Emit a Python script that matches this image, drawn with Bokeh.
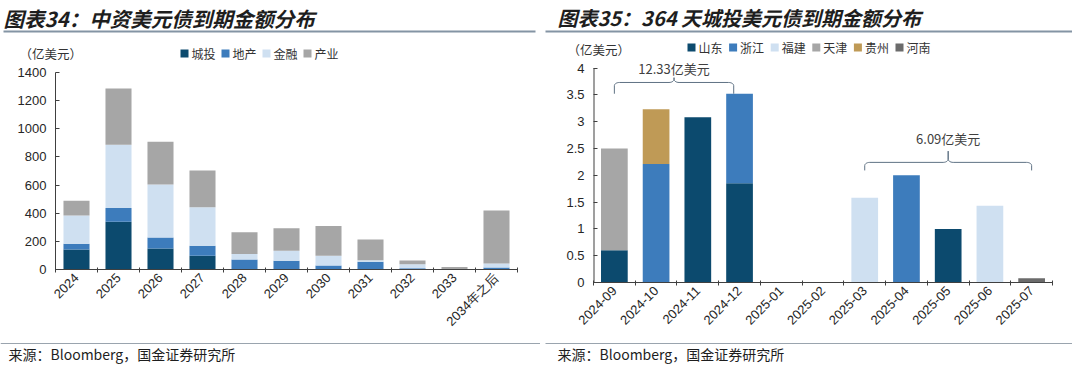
import math
import numpy as np
from bokeh.plotting import figure
from bokeh.layouts import row, column
from bokeh.models import (Range1d, FixedTicker, Label, NumeralTickFormatter, ColumnDataSource)
from bokeh.embed import file_html
from bokeh.resources import INLINE

# ---------------- data: left chart (图表34) ----------------
left_title = "图表34：中资美元债到期金额分布"
years = ["2024", "2025", "2026", "2027", "2028", "2029", "2030", "2031", "2032", "2033", "2034年之后"]
chengtou = [143, 340, 149, 97, 0, 0, 0, 0, 0, 0, 0]
dichan = [40, 97, 79, 72, 71, 62, 28, 55, 8, 0, 15]
jinrong = [200, 450, 376, 273, 40, 71, 69, 11, 30, 0, 28]
chanye = [105, 400, 304, 262, 154, 161, 213, 147, 26, 17, 377]
left_series = ["城投", "地产", "金融", "产业"]
left_yticks = [0, 200, 400, 600, 800, 1000, 1200, 1400]

# ---------------- data: right chart (图表35) ----------------
right_title = "图表35：364 天城投美元债到期金额分布"
months = ["2024-09", "2024-10", "2024-11", "2024-12", "2025-01", "2025-02",
          "2025-03", "2025-04", "2025-05", "2025-06", "2025-07"]
shandong = [0.60, 0, 3.08, 1.85, 0, 0, 0, 0, 1.00, 0, 0]
zhejiang = [0, 2.21, 0, 1.67, 0, 0, 0, 2.00, 0, 0, 0]
fujian = [0, 0, 0, 0, 0, 0, 1.58, 0, 0, 1.43, 0]
tianjin = [1.90, 0, 0, 0, 0, 0, 0, 0, 0, 0, 0]
guizhou = [0, 1.02, 0, 0, 0, 0, 0, 0, 0, 0, 0]
henan = [0, 0, 0, 0, 0, 0, 0, 0, 0, 0, 0.08]
right_series = ["山东", "浙江", "福建", "天津", "贵州", "河南"]
right_yticks = [0, 0.5, 1, 1.5, 2, 2.5, 3, 3.5, 4]
group1 = months[0:4]
group2 = months[6:11]

unit_text = "（亿美元）"
source_text = "来源：Bloomberg，国金证券研究所"

# ---------------- styles ----------------
NAVY = "#0c4a6e"
BLUE = "#3d7cbc"
LIGHT = "#cfe0f1"
GREY = "#a6a6a6"
GOLD = "#bf9a56"
DGREY = "#6b6b6b"
AXIS = "#404040"
TXT = "#262626"
RULE = "#8494a4"
CJK = "Noto Sans CJK SC"
LAT = "Liberation Sans"
LEFT_COLORS = [NAVY, BLUE, LIGHT, GREY]
RIGHT_COLORS = [NAVY, BLUE, LIGHT, GREY, GOLD, DGREY]


def blank_fig(w, h):
    p = figure(width=w, height=h, output_backend="svg", toolbar_location=None,
               x_range=Range1d(0, w), y_range=Range1d(h, 0),
               x_axis_location=None, y_axis_location=None, frame_align=False,
               min_border=0, min_border_left=0, min_border_right=0,
               min_border_top=0, min_border_bottom=0)
    p.grid.visible = False
    p.outline_line_color = None
    p.background_fill_color = "white"
    p.border_fill_color = "white"
    return p


def txt(p, text, x, y, size, color=TXT, style="normal", align="left", font=CJK):
    p.add_layout(Label(x=x, y=y, text=text, text_font=font, text_font_size=size,
                       text_color=color, text_font_style=style, text_align=align,
                       text_baseline="middle"))


def header(w, h, title, tx, tsize, rule_x0, rule_x1, ux, uy, names, colors, lx0, lstep, ly):
    p = blank_fig(w, h)
    txt(p, title, tx, 17, tsize, color="#1e1e1e", style="bold italic")
    p.segment(x0=[rule_x0], y0=[31], x1=[rule_x1], y1=[31], line_color=RULE, line_width=2)
    txt(p, unit_text, ux, uy, "12.5px", color="#333333")
    xs = [lx0 + lstep * i for i in range(len(names))]
    p.rect(x=xs, y=[ly] * len(names), width=8, height=8, width_units="screen",
           height_units="screen", fill_color=colors, line_color=None)
    for x, nm in zip(xs, names):
        txt(p, nm, x + 7, ly, "12px", color="#333333")
    return p


def footer(w, h, rule_x0, rule_x1, tx):
    p = blank_fig(w, h)
    p.segment(x0=[rule_x0], y0=[6], x1=[rule_x1], y1=[6], line_color="#9aa4ae", line_width=1)
    txt(p, source_text, tx, 16.5, "14px", color="#1e1e1e")
    return p


def chart_fig(w, h, n, ymax, mb_l, mb_r, mb_t, mb_b):
    p = figure(width=w, height=h, output_backend="svg", toolbar_location=None,
               x_range=Range1d(-0.5, n - 0.5), y_range=Range1d(0, ymax), frame_align=False,
               min_border_left=mb_l, min_border_right=mb_r,
               min_border_top=mb_t, min_border_bottom=mb_b)
    p.grid.visible = False
    p.outline_line_color = None
    p.background_fill_color = "white"
    p.border_fill_color = "white"
    xa = p.xaxis[0]
    xa.ticker = FixedTicker(ticks=list(range(n)), minor_ticks=[i - 0.5 for i in range(n + 1)])
    xa.major_tick_in = 0
    xa.major_tick_out = 0
    xa.minor_tick_in = 2
    xa.minor_tick_out = 3
    xa.minor_tick_line_color = AXIS
    xa.axis_line_color = AXIS
    xa.major_label_orientation = math.pi / 4
    xa.major_label_text_font = LAT
    xa.major_label_text_font_size = "13px"
    xa.major_label_text_color = TXT
    xa.major_label_standoff = 3
    ya = p.yaxis[0]
    ya.major_tick_in = 4
    ya.major_tick_out = 0
    ya.minor_tick_line_color = None
    ya.axis_line_color = AXIS
    ya.major_tick_line_color = AXIS
    ya.major_label_text_font = LAT
    ya.major_label_text_font_size = "13px"
    ya.major_label_text_color = TXT
    ya.major_label_standoff = 9
    return p


def brace(x0, x1, xc, yb, ym, yt, rx, ry):
    a = np.linspace(0, np.pi / 2, 8)
    lx = [x0] + list(x0 + rx - rx * np.cos(a)) + list(xc - rx + rx * np.sin(a)) + [xc]
    ly = [yb] + list(ym - ry + ry * np.sin(a)) + list(ym + ry - ry * np.cos(a)) + [yt]
    rxs = [xc] + list(xc + rx - rx * np.cos(a)) + list(x1 - rx + rx * np.sin(a)) + [x1]
    rys = [yt] + list(ym + ry - ry * np.sin(a)) + list(ym - ry + ry * np.cos(a)) + [yb]
    return [lx, rxs], [ly, rys]


# ================= left half (width 540) =================
WL = 540
hL = header(WL, 62, left_title, 3, "20.5px", 3, 535, 19, 52.5, left_series, LEFT_COLORS, 184, 41, 53)
nL = len(years)
pL = chart_fig(WL, 275, nL, left_yticks[-1], 55, 23, 10, 68)
pL.yaxis[0].ticker = FixedTicker(ticks=left_yticks)
pL.xaxis[0].major_label_overrides = {i: y for i, y in enumerate(years)}
srcL = ColumnDataSource(dict(x=list(range(nL)), 城投=chengtou, 地产=dichan, 金融=jinrong, 产业=chanye))
pL.vbar_stack(left_series, x="x", width=0.62, source=srcL,
              fill_color=LEFT_COLORS, line_color=None)
fL = footer(WL, 27, 0, 540, 8)

# ================= right half (width 532) =================
WR = 532
hR = header(WR, 58, right_title, 17, "20px", 5, 532, 27, 48.5, right_series, RIGHT_COLORS, 151, 41.6, 47)
nR = len(months)
# frame (224 px tall) starts at the figure top; y=4 sits 9.5 px below it, leaving room for the bracket label
y_top = right_yticks[-1] * 224 / 214.5
pR = chart_fig(WR, 279, nR, y_top, 53, 20, 0, 55)
pR.yaxis[0].ticker = FixedTicker(ticks=right_yticks)
pR.yaxis[0].formatter = NumeralTickFormatter(format="0.[0]")
pR.yaxis[0].axis_line_color = None
pR.segment(x0=[-0.5], y0=[0], x1=[-0.5], y1=[right_yticks[-1]], line_color=AXIS, line_width=2)
pR.xaxis[0].major_label_overrides = {i: m for i, m in enumerate(months)}
srcR = ColumnDataSource(dict(x=list(range(nR)), 山东=shandong, 浙江=zhejiang, 福建=fujian,
                             天津=tianjin, 贵州=guizhou, 河南=henan))
pR.vbar_stack(right_series, x="x", width=0.64, source=srcR,
              fill_color=RIGHT_COLORS, line_color=None)

all_series = [shandong, zhejiang, fujian, tianjin, guizhou, henan]


def group_sum(g):
    idx = [months.index(m) for m in g]
    return sum(s[i] for s in all_series for i in idx)


g1 = [months.index(m) for m in group1]
g2 = [months.index(m) for m in group2]
b1x0, b1x1 = g1[0], g1[-1] - 0.14
b1c = (b1x0 + b1x1) / 2
b2x0, b2x1 = g2[0], g2[-1]
b2c = (b2x0 + b2x1) / 2
xs1, ys1 = brace(b1x0, b1x1, b1c, 3.52, 3.73, 3.82, 0.12, 0.06)
xs2, ys2 = brace(b2x0, b2x1, b2c, 2.09, 2.24, 2.45, 0.12, 0.06)
pR.multi_line(xs1 + xs2, ys1 + ys2, line_color="#5f7284", line_width=1)
for cx, cy, g in [(b1c, 4.0, group1), (b2c, 2.68, group2)]:
    pR.add_layout(Label(x=cx, y=cy, text=f"{group_sum(g):.2f}亿美元", text_font=CJK,
                        text_font_size="13px", text_color="#404040", text_align="center",
                        text_baseline="middle"))
fR = footer(WR, 27, 5, 532, 17)

layout = row(column(hL, pL, fL), column(hR, pR, fR))
open("out.html", "w").write(file_html(layout, INLINE))
